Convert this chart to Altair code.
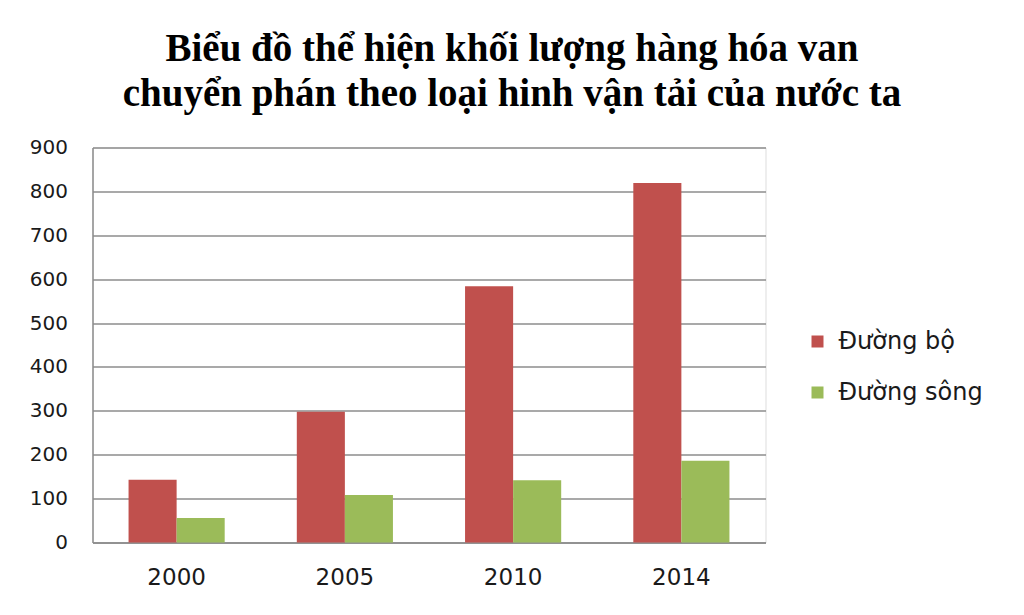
import altair as alt
import pandas as pd

years = ["2000", "2005", "2010", "2014"]
series = ["Đường bộ", "Đường sông"]
road = [143, 298, 584, 819]
river = [56, 108, 142, 186]
y_ticks = [0, 100, 200, 300, 400, 500, 600, 700, 800, 900]
colors = ["#C0504D", "#9BBB59"]
title_lines = ["Biểu đồ thể hiện khối lượng hàng hóa van",
               "chuyển phán theo loại hinh vận tải của nước ta"]

rows = []
for i, yr in enumerate(years):
    rows.append({"year": yr, "series": series[0], "value": road[i]})
    rows.append({"year": yr, "series": series[1], "value": river[i]})
df = pd.DataFrame(rows)

grid_color = "#8c8c8c"

chart = alt.Chart(df).mark_bar().encode(
    x=alt.X("year:N", sort=years,
            scale=alt.Scale(paddingInner=0.4286, paddingOuter=0.2143),
            axis=alt.Axis(title=None, labelAngle=0, labelFont="DejaVu Sans",
                          labelFontSize=23, labelColor="#1a1a1a", labelPadding=24,
                          ticks=False, domainColor=grid_color, domainWidth=1.5,
                          grid=False)),
    xOffset=alt.XOffset("series:N", sort=series,
                        scale=alt.Scale(paddingInner=0, paddingOuter=0)),
    y=alt.Y("value:Q", scale=alt.Scale(domain=[0, 900], nice=False),
            axis=alt.Axis(values=y_ticks, title=None, labelFont="DejaVu Sans",
                          labelFontSize=20, labelColor="#1a1a1a", labelPadding=25,
                          ticks=False, domainColor=grid_color, domainWidth=1.5,
                          gridColor=grid_color, gridWidth=1.5)),
    color=alt.Color("series:N", sort=series,
                    scale=alt.Scale(domain=series, range=colors),
                    legend=alt.Legend(title=None, orient="none", legendX=713, legendY=182,
                                      symbolType="square", symbolSize=144,
                                      symbolStrokeWidth=0, labelFont="DejaVu Sans",
                                      labelFontSize=24, labelColor="#1a1a1a",
                                      labelOffset=9, rowPadding=27, padding=0)),
).properties(
    width=673, height=395,
    padding={"left": 84.5, "top": 139.5, "right": 250, "bottom": 64.5},
    autosize=alt.AutoSizeParams(type="none"),
    title=alt.Title(title_lines, font="Liberation Serif", fontSize=39, fontWeight="bold",
                    color="#000000", anchor="middle", dx=83, offset=24, lineHeight=45),
).configure_view(strokeWidth=0).configure(background="#ffffff")

chart.save("out.html", embed_options={"renderer": "svg", "actions": False})
